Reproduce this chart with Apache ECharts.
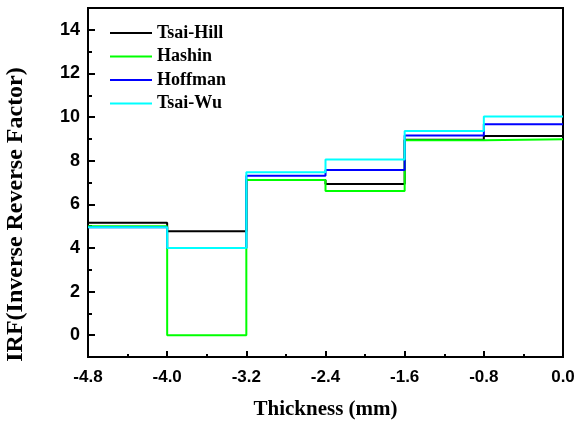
<!DOCTYPE html>
<html>
<head>
<meta charset="utf-8">
<script src="https://cdn.jsdelivr.net/npm/echarts@6/dist/echarts.min.js"></script>
<style>html,body{margin:0;padding:0;background:#fff}#c{width:577px;height:423px}</style>
</head>
<body>
<div id="c"></div>
<script>
// Step boundaries (thickness, mm) and per-segment IRF values
var xEdges = [-4.8, -4.0, -3.2, -2.4, -1.6, -0.8, 0.0];
var tsaiHill = [5.15, 4.77, 7.12, 6.93, 8.96, 9.13];
var hashin   = [5.00, 0.00, 7.11, 6.61, 8.94, 8.98];
var hoffman  = [4.95, 4.00, 7.31, 7.57, 9.16, 9.67];
var tsaiWu   = [4.95, 4.00, 7.47, 8.05, 9.36, 10.03];
var seriesNames = ['Tsai-Hill', 'Hashin', 'Hoffman', 'Tsai-Wu'];
var seriesColors = ['#000000', '#00ff00', '#0000ff', '#00ffff'];
var yLabelValues = [0, 2, 4, 6, 8, 10, 12, 14];

function stepData(vals) {
  var d = [];
  for (var i = 0; i < vals.length; i++) d.push([xEdges[i], vals[i]]);
  d.push([xEdges[xEdges.length - 1], vals[vals.length - 1]]);
  return d;
}
var allVals = [tsaiHill, hashin, hoffman, tsaiWu];
var series = allVals.map(function (v, i) {
  return {
    name: seriesNames[i], type: 'line', step: 'end', data: stepData(v),
    symbol: 'none',
    lineStyle: { color: seriesColors[i], width: 2 },
    itemStyle: { color: seriesColors[i] }
  };
});

var lblFont = { fontFamily: 'Liberation Sans', fontWeight: 'bold', fontSize: 17, color: '#000' };
var titleFont = { fontFamily: 'Liberation Serif', fontWeight: 'bold', fontSize: 21, color: '#000' };
var axLine = { show: true, onZero: false, lineStyle: { color: '#000', width: 2 } };

var chart = echarts.init(document.getElementById('c'), null, { renderer: 'canvas' });
chart.setOption({
  animation: false,
  backgroundColor: '#fff',
  grid: { left: 88, right: 14, top: 8, bottom: 66, containLabel: false, outerBoundsMode: 'none',
          show: true, borderColor: '#000', borderWidth: 2, backgroundColor: 'transparent' },
  legend: {
    orient: 'vertical', left: 110, top: 24, padding: 0,
    itemWidth: 42, itemHeight: 2, itemGap: 5.5, icon: 'rect',
    data: seriesNames,
    textStyle: { fontFamily: 'Liberation Serif', fontWeight: 'bold', fontSize: 18, color: '#000', lineHeight: 18 }
  },
  xAxis: {
    type: 'value', min: -4.8, max: 0, interval: 0.8, position: 'bottom',
    name: 'Thickness (mm)', nameLocation: 'middle', nameGap: 42, nameTextStyle: titleFont,
    axisLine: axLine,
    axisTick: { show: true, inside: true, length: 6, lineStyle: { color: '#000', width: 2 } },
    minorTick: { show: true, splitNumber: 2, length: 3, lineStyle: { color: '#000', width: 2 } },
    axisLabel: Object.assign({ margin: 12, formatter: function (v) { return v.toFixed(1); } }, lblFont),
    splitLine: { show: false }
  },
  yAxis: {
    // scale ticks fall on odd values (short ticks); minor ticks fall on even values (long ticks)
    type: 'value', min: -1, max: 15, interval: 2, position: 'left',
    name: 'IRF(Inverse Reverse Factor)', nameLocation: 'middle', nameGap: 60,
    nameTextStyle: Object.assign({ padding: [0, 64, 0, 0] }, titleFont, { fontSize: 24 }),
    axisLine: axLine,
    axisTick: { show: true, inside: true, length: 4, lineStyle: { color: '#000', width: 2 } },
    minorTick: { show: true, splitNumber: 2, length: 7, lineStyle: { color: '#000', width: 2 } },
    axisLabel: Object.assign({ margin: 8, customValues: yLabelValues }, lblFont, { fontSize: 18 }),
    splitLine: { show: false }
  },
  series: series
});
</script>
</body>
</html>
